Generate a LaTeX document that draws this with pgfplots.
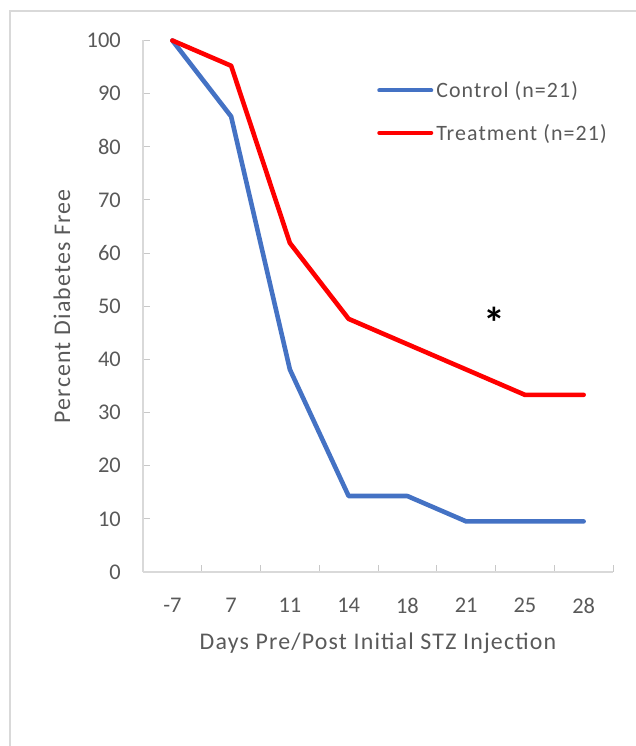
\documentclass[border=0pt]{standalone}
\usepackage{fontspec}
\setmainfont{Carlito}
\newfontfamily\lblfont[LetterSpace=5]{Carlito}
\usepackage{pgfplots}
\pgfplotsset{compat=1.18}
\definecolor{ctrl}{HTML}{4472C4}
\definecolor{trt}{HTML}{FF0000}
\definecolor{txt}{HTML}{595959}
\definecolor{axl}{HTML}{D9D9D9}
\definecolor{tkc}{HTML}{C8C8C8}
\begin{document}
\begin{tikzpicture}[x=1bp,y=1bp]
\useasboundingbox (0,0) rectangle (636,746);
\draw[axl, line width=1.5bp] (10,0) -- (10,735) -- (636,735);
\begin{axis}[
  at={(143bp,174bp)}, anchor=south west, scale only axis,
  width=470bp, height=531.5bp,
  xmin=-0.5, xmax=7.5, ymin=0, ymax=100,
  axis lines=left, axis line style={-, draw=axl, line width=1.3bp},
  xtick={0,...,7}, xticklabels={-7,7,11,14,18,21,25,28},
  minor xtick={-0.5,0.5,...,7.5},
  ytick={0,10,...,100},
  tick align=inside,
  major x tick style={draw=none},
  minor x tick style={draw=tkc, line width=1bp},
  major y tick style={draw=tkc, line width=1bp},
  major tick length=7bp, minor tick length=7bp,
  /pgf/number format/assume math mode=true,
  tick label style={font=\fontsize{22.5}{26}\selectfont, text=txt},
  xticklabel style={inner sep=0pt, yshift=-26bp},
  yticklabel style={inner sep=0pt, xshift=-22bp},
  xlabel={Days Pre/Post Initial STZ Injection},
  ylabel={Percent Diabetes Free},
  label style={font=\lblfont\fontsize{24}{28}\selectfont, text=txt},
  xlabel style={at={(axis description cs:0.5,-0.1148)}, anchor=north, inner sep=0pt},
  ylabel style={at={(axis description cs:-0.1723,0.5)}, anchor=center, inner sep=0pt},
  legend style={at={(axis description cs:0.498,0.923)}, anchor=north west, draw=none, fill=none,
    font=\lblfont\fontsize{22}{26}\selectfont, text=txt, inner sep=0pt, row sep=25bp,
    nodes={inner sep=0pt}},
  legend cell align=left,
  legend image code/.code={\draw[#1, line width=4bp, line cap=round] (0bp,0bp) -- (52bp,0bp);},
  clip=false,
]
\addplot[ctrl, line width=4.6bp, line join=round, line cap=round] coordinates {
  (0,100) (1,85.71) (2,38.10) (3,14.29) (4,14.29) (5,9.52) (6,9.52) (7,9.52)};
\addlegendentry{\hspace{3bp}Control (n=21)}
\addplot[trt, line width=4.6bp, line join=round, line cap=round] coordinates {
  (0,100) (1,95.24) (2,61.90) (3,47.62) (4,42.86) (5,38.10) (6,33.33) (7,33.33)};
\addlegendentry{\hspace{3bp}Treatment (n=21)}
\node[anchor=north, inner sep=0pt, font=\bfseries\fontsize{44}{48}\selectfont] at (axis cs:5.475,49.8) {*};
\end{axis}
\end{tikzpicture}
\end{document}
